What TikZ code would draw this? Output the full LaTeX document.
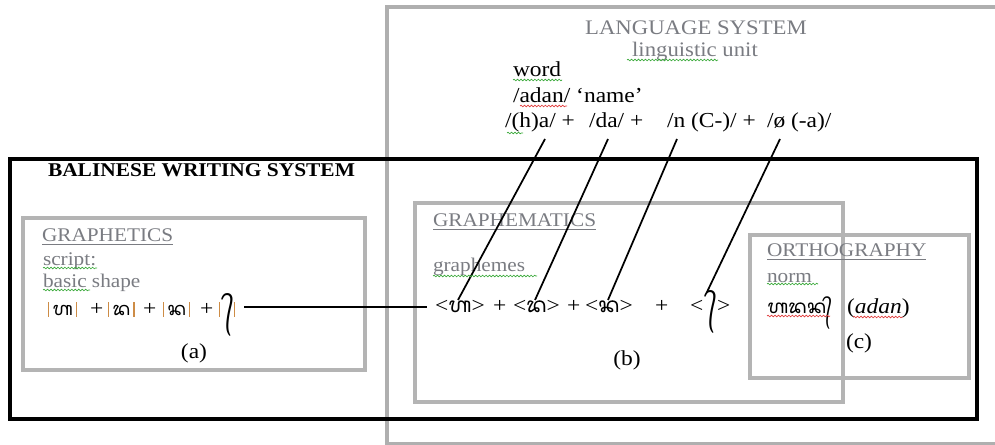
\documentclass[tikz,border=0pt]{standalone}
\usepackage{fontspec}
\setmainfont[FakeStretch=1.1]{Liberation Serif}
\newfontfamily\bali[Script=Balinese]{Noto Sans Balinese}
\usetikzlibrary{calc,decorations.pathmorphing}
\definecolor{txtgray}{RGB}{122,124,130}
\definecolor{boxgray}{RGB}{180,180,180}
\definecolor{langgray}{RGB}{175,175,175}
\definecolor{bargold}{RGB}{205,140,70}
\definecolor{sqgreen}{RGB}{60,170,60}
\definecolor{sqred}{RGB}{225,60,60}
\newcommand{\bbar}{\textcolor{bargold}{\rule[-1.5pt]{0.9pt}{11pt}}}
\newcommand{\adeg}{{\fontsize{19}{22}\bali ^^^^00a0^^^^1b44}}
\begin{document}
\begin{tikzpicture}[x=0.75pt,y=-0.75pt,
  every node/.style={inner sep=0pt, outer sep=0pt, anchor=base west},
  graylbl/.style={text=txtgray, font=\fontsize{14.5}{17}\selectfont},
  blk/.style={text=black, font=\fontsize{16}{19}\selectfont},
  balitxt/.style={text=black, font=\fontsize{14}{17}\bali},
  grayframe/.style={draw=boxgray, line width=2.3pt},
  langframe/.style={draw=langgray, line width=2.3pt},
  blackframe/.style={draw=black, line width=3pt},
  link/.style={draw=black, line width=1.3pt},
  sqg/.style={draw=sqgreen, line width=0.5pt, decorate, decoration={snake, amplitude=0.6pt, segment length=2.6pt}},
  sqr/.style={draw=sqred, line width=0.5pt, decorate, decoration={snake, amplitude=0.6pt, segment length=2.6pt}}]
\useasboundingbox (0,0) rectangle (995,445);
\fill[white] (0,0) rectangle (995,445);

% frames
\draw[langframe] (387,7) rectangle (1010,444);
\draw[blackframe] (10,159) rectangle (977,419);
\draw[grayframe] (23,218) rectangle (365,370);
\draw[grayframe] (415,203) rectangle (843,402);
\draw[grayframe] (750,235) rectangle (969,378);

% language system
\node[graylbl, anchor=base, font=\fontsize{15.5}{18}\selectfont] (lstitle) at (696,35) {LANGUAGE SYSTEM};
\node[graylbl, anchor=base, font=\fontsize{15.5}{18}\selectfont] (lsunit) at (695,57) {linguistic unit};
\node[blk] (word) at (513,77) {word};
\node[blk] (adan) at (513,103) {/adan/ ‘name’};
\node[blk] (p1) at (505,128) {/(h)a/ +};
\node[blk] (p2) at (589,128) {/da/ +};
\node[blk] (p3) at (667,128) {/n (C-)/ +};
\node[blk] (p4) at (767,128) {/ø (-a)/};

% writing system title
\node[font=\fontsize{14.6}{17}\selectfont\bfseries] (bws) at (48,177) {BALINESE WRITING SYSTEM};

% graphetics
\node[graylbl] (gtitle) at (42,242) {\underline{GRAPHETICS}};
\node[graylbl] (gscript) at (43,265) {script:};
\node[graylbl] (gbasic) at (43,287) {basic shape};
\node[balitxt] (a1) at (48,315) {\bbar\,ᬳ\,\bbar};
\node[blk] (ap1) at (90,315) {+};
\node[balitxt] (a2) at (108,315) {\bbar\,ᬤ\,\bbar};
\node[blk] (ap2) at (143,315) {+};
\node[balitxt] (a3) at (163,315) {\bbar\,ᬦ\,\bbar};
\node[blk] (ap3) at (200,315) {+};
\node[balitxt] (a4) at (219,315) {\bbar\adeg\bbar};
\node[blk, anchor=base] (la) at (194,358) {(a)};

% graphematics
\node[graylbl] (mtitle) at (433,227) {\underline{GRAPHEMATICS}};
\node[graylbl] (mgraph) at (433,272) {graphemes};
\node[blk] (g1) at (435,312) {<{\bali ᬳ}>};
\node[blk] (gp1) at (493,312) {+};
\node[blk] (g2) at (513,312) {<{\bali ᬤ}>};
\node[blk] (gp2) at (567,312) {+};
\node[blk] (g3) at (585,312) {<{\bali ᬦ}>};
\node[blk] (gp3) at (655,312) {+};
\node[blk] (g4) at (690,312) {<\adeg>};
\node[blk, anchor=base] (lb) at (627,365) {(b)};

% orthography
\node[graylbl] (otitle) at (767,257) {\underline{ORTHOGRAPHY}};
\node[graylbl] (onorm) at (767,282) {norm};
\node[balitxt, font=\fontsize{14.5}{17}\bali] (oword) at (767,313) {ᬳᬤᬦ᭄};
\node[blk] (olat) at (847,313) {(\textit{adan})};
\node[blk] (lc) at (846,348) {(c)};

% connectors
\draw[link] ($(p1.base west)+(40,11)$) -- ($(g1.base west)+(23,-12)$);
\draw[link] ($(p2.base west)+(19,11)$) -- ($(g2.base west)+(22,-12)$);
\draw[link] ($(p3.base west)+(10,11)$) -- ($(g3.base west)+(23,-12)$);
\draw[link] ($(p4.base west)+(13,11)$) -- ($(g4.base west)+(17,-20)$);
\draw[link] ($(a4.base east)+(9,-8)$) -- ($(g1.base west)+(-8,-5)$);

% spelling squiggles
\draw[sqg] (627,60) -- (718,60);
\draw[sqg] (513,80) -- (562,80);
\draw[sqr] (520,106) -- (567,106);
\draw[sqg] (507,133) -- (523,133);
\draw[sqg] (43,268) -- (97,268);
\draw[sqg] (43,290) -- (90,290);
\draw[sqg] (433,276) -- (537,276);
\draw[sqg] (767,284) -- (818,284);
\draw[sqr] (767,316) -- (830,316);
\draw[sqr] (853,317) -- (903,317);
\end{tikzpicture}
\end{document}
